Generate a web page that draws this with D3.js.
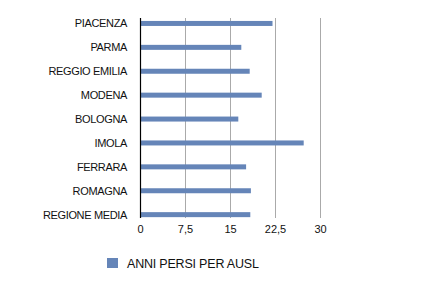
<!DOCTYPE html>
<html>
<head>
  <meta charset="utf-8">
  <script src="https://d3js.org/d3.v7.min.js"></script>
  <style>
    body { margin: 0; background: #fff; }
    text { font-family: "Liberation Sans", Arial, sans-serif; fill: #111; }
  </style>
</head>
<body>
<script>
  "use strict";

  // data
  var categories = ["PIACENZA", "PARMA", "REGGIO EMILIA", "MODENA", "BOLOGNA",
                    "IMOLA", "FERRARA", "ROMAGNA", "REGIONE MEDIA"];
  var anniPersi = [22, 16.8, 18.2, 20.2, 16.3, 27.2, 17.6, 18.4, 18.3];
  var tickValues = [0, 7.5, 15, 22.5, 30];
  var seriesName = "ANNI PERSI PER AUSL";

  var width = 442, height = 286;
  var barColor = "#6585b8";

  var svg = d3.select("body").append("svg")
      .attr("width", width)
      .attr("height", height);

  var x = d3.scaleLinear().domain([0, 30]).range([140.5, 320.5]);
  var y = d3.scaleBand().domain(categories).range([11.5, 226.6]);

  // vertical grid lines
  svg.append("g").selectAll("line")
      .data(tickValues.slice(1))
    .enter().append("line")
      .attr("x1", function (d) { return x(d); })
      .attr("x2", function (d) { return x(d); })
      .attr("y1", 18)
      .attr("y2", 218)
      .style("stroke", "#aaa")
      .style("stroke-width", 1);

  // bars
  svg.append("g").selectAll("rect")
      .data(anniPersi)
    .enter().append("rect")
      .attr("x", x(0))
      .attr("y", function (d, i) { return y(categories[i]) + y.bandwidth() / 2 - 2.5; })
      .attr("width", function (d) { return x(d) - x(0); })
      .attr("height", 5)
      .style("fill", barColor);

  // y axis line
  svg.append("line")
      .attr("x1", x(0)).attr("x2", x(0))
      .attr("y1", 18).attr("y2", 218)
      .style("stroke", "#000")
      .style("stroke-width", 1.2);

  // category labels
  svg.append("g").selectAll("text")
      .data(categories)
    .enter().append("text")
      .attr("x", 127)
      .attr("y", function (d) { return y(d) + y.bandwidth() / 2; })
      .attr("dy", "0.35em")
      .attr("text-anchor", "end")
      .style("font-size", "11px")
      .style("letter-spacing", "-0.35px")
      .text(function (d) { return d; });

  // x tick labels
  svg.append("g").selectAll("text")
      .data(tickValues)
    .enter().append("text")
      .attr("x", function (d) { return x(d); })
      .attr("y", 229)
      .attr("dy", "0.35em")
      .attr("text-anchor", "middle")
      .style("font-size", "11px")
      .text(function (d) { return String(d).replace(".", ","); });

  // legend
  svg.append("rect")
      .attr("x", 107).attr("y", 258)
      .attr("width", 11).attr("height", 10)
      .style("fill", barColor);
  svg.append("text")
      .attr("x", 127).attr("y", 264)
      .attr("dy", "0.35em")
      .style("font-size", "12.5px")
      .style("letter-spacing", "-0.2px")
      .text(seriesName);
</script>
</body>
</html>
